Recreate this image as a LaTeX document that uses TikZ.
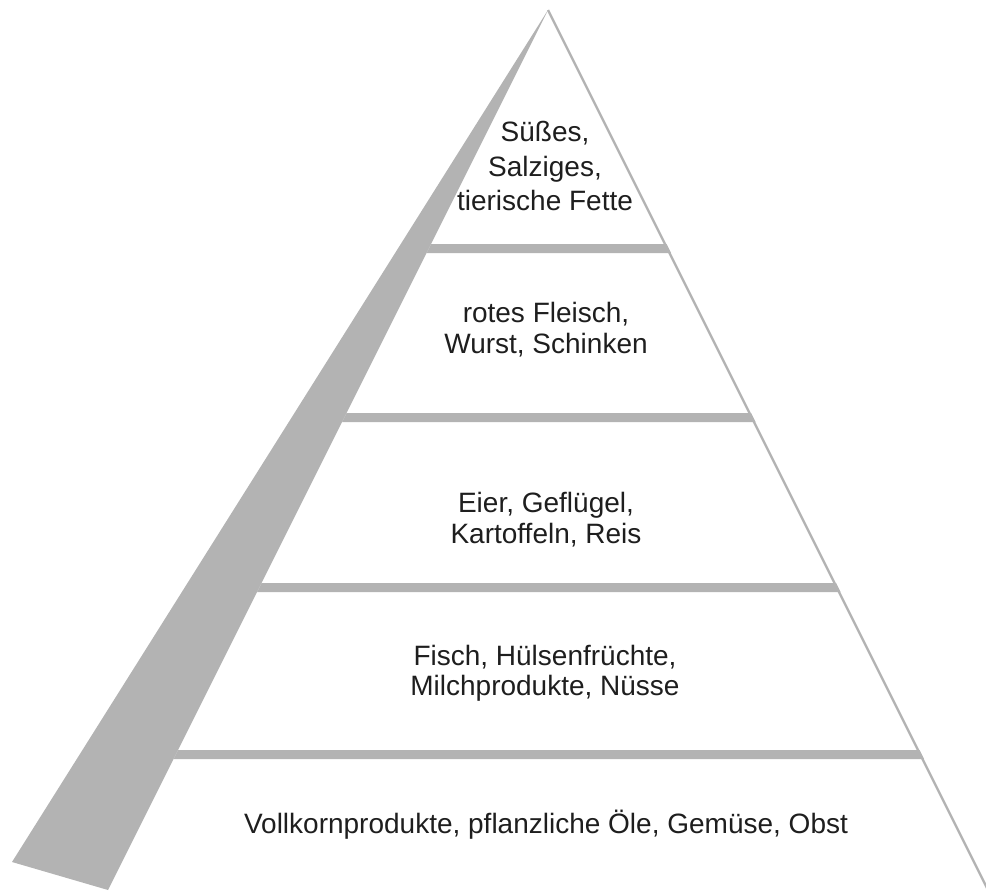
\documentclass[tikz,border=0pt]{standalone}
\usepackage{fontspec}
\setmainfont{Liberation Sans}
\definecolor{bandgray}{RGB}{179,179,179}
\definecolor{txt}{RGB}{30,30,30}
\begin{document}
\begin{tikzpicture}[x=1pt,y=-1pt,
  lbl/.style={anchor=base,inner sep=0pt,text=txt,font=\fontsize{28}{32}\selectfont}]
\useasboundingbox (0,0) rectangle (986,891);
% key points
\coordinate (apex) at (548,10);
\coordinate (outerbl) at (12,862);
\coordinate (innerbl) at (108,890);
\coordinate (rightend) at (987,888);
% gray band on the left
\fill[bandgray] (apex) -- (outerbl) -- (innerbl) -- cycle;
% right edge
\draw[bandgray,line width=2.3pt] (apex) -- (rightend);
% dividers (between inner edge x=548-0.5(y-10) and right edge x=548+0.5(y-10))
\foreach \yt/\yb in {244/253,413/422,583/592,750/759}{
  \fill[bandgray] ({548-0.5*(\yt-10)},\yt) -- ({549.5+0.5*(\yt-10)},\yt)
    -- ({549.5+0.5*(\yb-10)},\yb) -- ({548-0.5*(\yb-10)},\yb) -- cycle;
}
% texts
\node[lbl] (t1a) at (545,142) {Süßes,};
\node[lbl] (t1b) at (545,176) {Salziges,};
\node[lbl] (t1c) at (545,210) {tierische Fette};
\node[lbl] (t2a) at (546,322) {rotes Fleisch,};
\node[lbl] (t2b) at (546,353) {Wurst, Schinken};
\node[lbl] (t3a) at (546,512) {Eier, Geflügel,};
\node[lbl] (t3b) at (546,543) {Kartoffeln, Reis};
\node[lbl] (t4a) at (545,665) {Fisch, Hülsenfrüchte,};
\node[lbl] (t4b) at (545,695) {Milchprodukte, Nüsse};
\node[lbl] (t5) at (546,833) {Vollkornprodukte, pflanzliche Öle, Gemüse, Obst};
\end{tikzpicture}
\end{document}
